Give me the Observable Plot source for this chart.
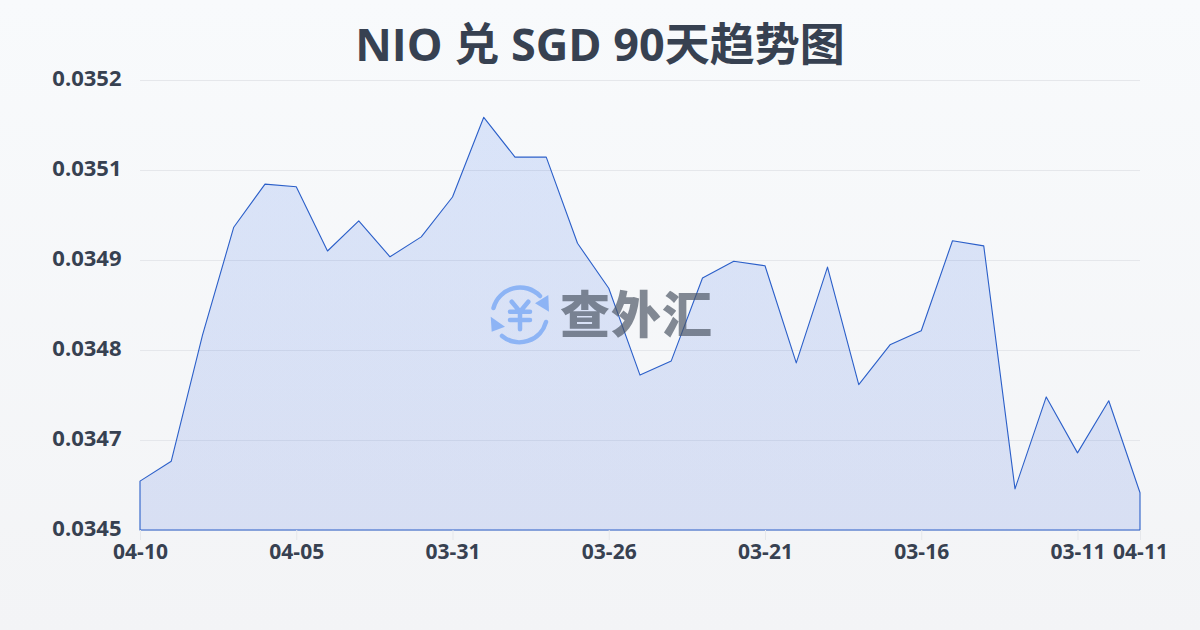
<!DOCTYPE html>
<html><head><meta charset="utf-8">
<script src="https://cdn.jsdelivr.net/npm/d3@7"></script>
<script src="https://cdn.jsdelivr.net/npm/@observablehq/plot@0.6"></script>
<style>
html,body{margin:0;padding:0;width:1200px;height:630px;overflow:hidden;}
body{position:relative;background:linear-gradient(180deg,#f8fafc 0%,#f3f4f6 100%);font-family:"Open Sans","Noto Sans CJK SC",sans-serif;}
#title{padding-top:14px;height:46px;line-height:60px;text-align:center;font-size:45px;font-weight:700;color:#374151;}
#chart{position:absolute;left:0;top:60px;}
#chart svg{display:block;background:transparent;}
#wm{position:absolute;left:488px;top:283px;width:230px;height:64px;}
#wm span{position:absolute;left:72px;top:-4px;font-size:50px;font-weight:900;line-height:64px;letter-spacing:1px;color:#4b5563;opacity:.68;white-space:nowrap;font-family:"Noto Sans CJK SC";}
</style></head><body>
<div id="title">NIO 兑 SGD 90天趋势图</div>
<div id="chart"></div>
<div id="wm">
<svg width="64" height="64" viewBox="0 0 64 64" style="position:absolute;left:0;top:0">
<g fill="none" stroke="#8db4f5" stroke-width="4.5" stroke-linecap="round">
<path d="M5.5 25 A27.5 27.5 0 0 1 52 13"/><path d="M58 39 A27.5 27.5 0 0 1 14 53"/>
<path d="M23.7 18.7 L32 28.7 L40.3 18.7 M22 28.7 H42 M22 37 H42 M32 28.7 V46.3"/>
</g>
<path d="M60.3 12 L61 28.7 L47 20.3Z" fill="#8db4f5"/><path d="M2.7 33.7 L17 43.7 L3.7 48.7Z" fill="#8db4f5"/>
</svg>
<span>查外汇</span>
</div>
<script>
const categories=["04-10","04-09","04-08","04-07","04-06","04-05","04-04","04-03","04-02","04-01","03-31","03-30","03-29","03-28","03-27","03-26","03-25","03-24","03-23","03-22","03-21","03-20","03-19","03-18","03-17","03-16","03-15","03-14","03-13","03-12","03-11","03-10","04-11"];
const rates=[.034586,.034617,.034813,.034981,.035048,.035044,.034944,.034991,.034935,.034966,.035028,.035152,.035090,.035090,.034956,.034886,.034751,.034773,.034902,.034928,.034921,.034770,.034919,.034736,.034798,.034820,.034960,.034952,.034574,.034717,.034630,.034711,.034568];
const xTickLabels=["04-10","04-05","03-31","03-26","03-21","03-16","03-11","04-11"];
const yTickValues=[.03451,.03465,.03479,.03493,.03507,.03521];
const yTickLabels=["0.0345","0.0347","0.0348","0.0349","0.0351","0.0352"];
const table=categories.map((c,i)=>({c,v:rates[i]}));
const ylab=new Map(yTickValues.map((v,i)=>[v,yTickLabels[i]]));
const plot=Plot.plot({
  width:1200,height:570,marginLeft:140,marginRight:60,marginTop:20,marginBottom:100,
  style:{background:"transparent",fontFamily:'"Open Sans","Noto Sans CJK SC",sans-serif'},
  x:{type:"point",domain:categories,padding:0,round:false},
  y:{domain:[.03451,.03521]},
  marks:[
    ()=>{const s=d3.create("svg:defs");const g=s.append("linearGradient").attr("id","fillG").attr("x1",0).attr("x2",0).attr("y1",0).attr("y2",1);
      g.append("stop").attr("offset","0%").attr("stop-color","#2563eb").attr("stop-opacity",.14);
      g.append("stop").attr("offset","100%").attr("stop-color","#1d4ed8").attr("stop-opacity",.13);return s.node();},
    Plot.gridY(yTickValues,{stroke:"#e5e7eb",strokeOpacity:1,strokeWidth:1}),
    Plot.areaY(table,{x:"c",y1:.03451,y2:"v",fill:"url(#fillG)",stroke:"#2b5fc9",strokeWidth:1.1,curve:"linear"}),
    Plot.axisY(yTickValues,{anchor:"left",label:null,tickSize:0,tickPadding:19,dy:-2,tickFormat:d=>ylab.get(d),fontSize:22,fontWeight:700,fill:"#374151"}),
    Plot.axisX(xTickLabels,{anchor:"bottom",label:null,tickSize:10,tickPadding:4,stroke:"#e5e7eb",fontSize:21,fontWeight:700,fill:"#374151"})
  ]
});
document.getElementById("chart").appendChild(plot);
</script>
</body></html>
